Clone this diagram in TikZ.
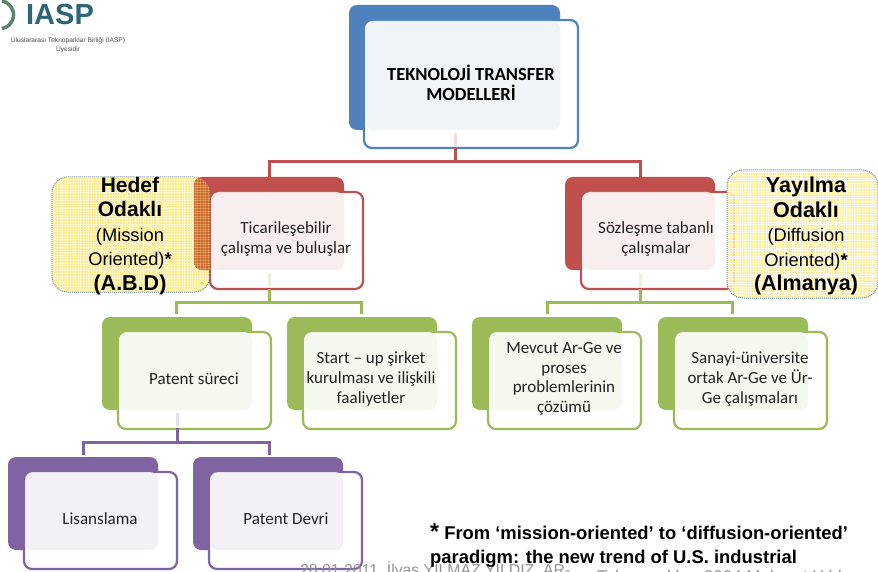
\documentclass[tikz,border=0pt]{standalone}
\usepackage{fontspec}
\setmainfont{Carlito}
\newfontfamily\arialf{Liberation Sans}
\definecolor{cblue}{HTML}{4F81BD}
\definecolor{cred}{HTML}{C0504D}
\definecolor{cgreen}{HTML}{9BBB59}
\definecolor{cpurple}{HTML}{8064A2}
\definecolor{cyell}{HTML}{FCEB8C}
\definecolor{ctext}{HTML}{222222}
\definecolor{clogo}{HTML}{2F6478}
\definecolor{coverlap}{HTML}{C9652E}
\tikzset{
  x=1pt,y=-1pt,
  link/.style={line width=3pt},
  ghost/.style={line width=3pt,opacity=.2},
  back/.style={rounded corners=8pt},
  outl/.style={rounded corners=8pt,line width=2.2pt,fill=white},
  veil/.style={rounded corners=8pt,fill=white,fill opacity=0.9},
  lbl/.style={align=center,text=ctext,font=\fontsize{17}{19.7}\selectfont,inner sep=0pt},
  yel/.style={rounded corners=16pt,fill=cyell},
  yelb/.style={rounded corners=16pt,draw=cblue!70!gray,line width=1pt,densely dotted},
  yt/.style={align=center,inner sep=0pt,text=black,font=\arialf\fontsize{18.3}{24.5}\selectfont},
  foot/.style={inner sep=0pt,anchor=west,text=gray!85,font=\arialf\fontsize{15.8}{18}\selectfont}
}
\newcommand{\grid}[4]{%
  \begin{scope}
    \clip[rounded corners=16pt] (#1,#2) rectangle (#3,#4);
    \foreach \i in {0,...,70}{
      \draw[white,line width=0.5pt,opacity=.75] ({#1+\i*2.6},#2) -- ({#1+\i*2.6},#4);
      \draw[white,line width=0.5pt,opacity=.75] (#1,{#2+\i*2.6}) -- (#3,{#2+\i*2.6});
    }
  \end{scope}}
\newcommand{\stackbox}[6]{%
  \fill[back,#2] (#3,#4) rectangle +(150,93);
  \draw[outl,draw=#2] (#3+16,#4+15) rectangle +(153,97);
  \fill[veil,#2!10] (#3+17,#4+15) rectangle (#3+150,#4+93);
  \node[lbl] (#1) at (#5,#4+62) {#6};
}
\begin{document}
\begin{tikzpicture}
\useasboundingbox (0,0) rectangle (878,572);
\clip (0,0) rectangle (878,572);
\fill[white] (0,0) rectangle (878,572);

% logo
\draw[cgreen!40!clogo,line width=3.5pt] (2,1) arc[start angle=80,end angle=-80,radius=14pt];
\node[inner sep=0pt,text=clogo,font=\arialf\bfseries\fontsize{29}{29}\selectfont] (logo) at (60,15) {IASP};
\node[inner sep=0pt,align=center,text=black!70,font=\arialf\fontsize{6.6}{9}\selectfont] (logosub) at (68,45) {Uluslararası Teknoparklar Birliği (IASP)\\Üyesidir};

% connectors
\coordinate (jt) at (455,162);
\coordinate (jl) at (269,162);
\coordinate (jr) at (640,162);

% top box
\fill[back,cblue] (349,5) rectangle (560,130);
\draw[outl,draw=cblue] (364,20) rectangle (578,148);
\fill[veil,cblue!10] (366,21) rectangle (560,130);
\draw[cred,ghost] (455,133) -- (455,146);
\node[lbl,font=\bfseries\fontsize{18.5}{20}\selectfont,text=black] (top) at (471,83) {TEKNOLOJİ TRANSFER\\MODELLERİ};

\draw[cred,link] (455,148) -- (jt);
\draw[cred,link] (269,177) -- (jl) -- (jr) -- (640,177);

% yellow left
\fill[yel] (52,177) rectangle (210,292);
\grid{52}{177}{210}{292}
\draw[yelb] (52,177) rectangle (210,292);

\stackbox{tic}{cred}{194}{177}{286}{Ticarileşebilir\\çalışma ve buluşlar}
\begin{scope}
  \clip[rounded corners=16pt] (52,177) rectangle (210,292);
  \fill[coverlap,rounded corners=8pt] (194,177) rectangle (300,270);
  \foreach \i in {0,...,70}{
    \draw[cyell,line width=0.5pt,opacity=.3] ({52+\i*2.6},177) -- ({52+\i*2.6},292);
    \draw[cyell,line width=0.5pt,opacity=.3] (52,{177+\i*2.6}) -- (210,{177+\i*2.6});
  }
\end{scope}

\stackbox{soz}{cred}{565}{177}{656}{Sözleşme tabanlı\\çalışmalar}

% yellow right
\fill[yel,fill opacity=.85] (727,170) rectangle (878,298);
\grid{727}{170}{878}{298}
\draw[yelb] (727,170) rectangle (878,298);

\node[yt] (hedef) at (130,236) {\bfseries\fontsize{21}{27}\selectfont Hedef\\[0pt]\bfseries\fontsize{21}{27}\selectfont Odaklı\\(Mission\\Oriented)\textbf{*}\\\bfseries\fontsize{21.5}{25}\selectfont (A.B.D)};
\node[yt] (yayilma) at (806,236) {\bfseries\fontsize{21.5}{27}\selectfont Yayılma\\[0pt]\bfseries\fontsize{21.5}{27}\selectfont Odaklı\\(Diffusion\\Oriented)\textbf{*}\\\bfseries\fontsize{21.5}{25}\selectfont (Almanya)};

% green connectors
\draw[cgreen,ghost] (269,273) -- (269,287);
\draw[cgreen,ghost] (640,273) -- (640,287);
\draw[cgreen,link] (269,289) -- (269,302);
\draw[cgreen,link] (176,314) -- (176,302) -- (361,302) -- (361,314);
\draw[cgreen,link] (640,289) -- (640,302);
\draw[cgreen,link] (547,314) -- (547,302) -- (732,302) -- (732,314);

\stackbox{pat}{cgreen}{102}{317}{194}{Patent süreci}
\stackbox{sta}{cgreen}{287}{317}{371}{Start – up şirket\\kurulması ve ilişkili\\faaliyetler}
\stackbox{mev}{cgreen}{472}{317}{564}{Mevcut Ar-Ge ve\\proses\\problemlerinin\\çözümü}
\stackbox{san}{cgreen}{658}{317}{750}{Sanayi-üniversite\\ortak Ar-Ge ve Ür-\\Ge çalışmaları}

% purple connectors
\draw[cpurple,ghost] (177,413) -- (177,426);
\draw[cpurple,link] (177,428) -- (177,442);
\draw[cpurple,link] (83,455) -- (83,442) -- (269,442) -- (269,455);

\stackbox{lis}{cpurple}{8}{457}{100}{Lisanslama}
\stackbox{dev}{cpurple}{193}{457}{286}{Patent Devri}

% footer
\node[foot] (f1) at (300,570) {28.01.2011\ \ İlyas YILMAZ YILDIZ, AR-};
\node[foot,font=\arialf\fontsize{17}{18}\selectfont] (f2) at (597,578) {Teknoparkları 2004 Mehmet Yıldız};

% footnote
\node[inner sep=0pt,anchor=north west,align=left,text=black,font=\arialf\bfseries\fontsize{18.4}{24.5}\selectfont] (note) at (430,523) {{\fontsize{23}{23}\selectfont *} From ‘mission-oriented’ to ‘diffusion-oriented’\\paradigm: the new trend of U.S. industrial};
\end{tikzpicture}
\end{document}
